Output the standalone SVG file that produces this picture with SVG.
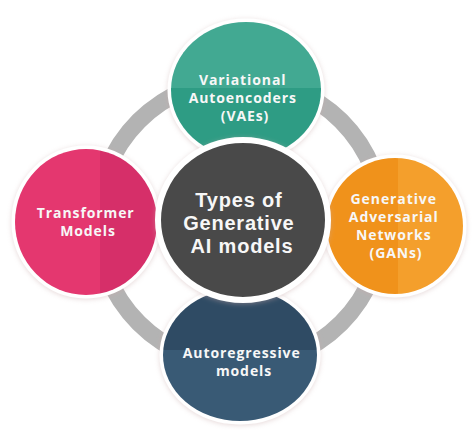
<svg xmlns="http://www.w3.org/2000/svg" width="475" height="430" viewBox="0 0 475 430">
  <defs>
    <filter id="glow" x="-20%" y="-20%" width="140%" height="140%">
      <feDropShadow dx="0" dy="1" stdDeviation="2.5" flood-color="#c9a9a9" flood-opacity="0.45"/>
    </filter>
    <clipPath id="clipTeal"><ellipse cx="246" cy="90" rx="75" ry="68"/></clipPath>
    <clipPath id="clipPink"><ellipse cx="86" cy="222" rx="71" ry="73"/></clipPath>
    <clipPath id="clipOrange"><ellipse cx="395" cy="226" rx="68" ry="68"/></clipPath>
    <clipPath id="clipBlue"><ellipse cx="240" cy="355" rx="77" ry="66"/></clipPath>
  </defs>
  <style>
    .halo { fill: none; stroke: #ffffff; stroke-width: 7; }
    .label { font-family: "Open Sans", "Liberation Sans", sans-serif; font-weight: 700; fill: #f7f7f7; text-anchor: middle; }
    .small { font-size: 14px; letter-spacing: 0.9px; }
    .big { font-family: "Liberation Sans", Arial, sans-serif; font-size: 20px; letter-spacing: 0.8px; }
  </style>
  <rect width="475" height="430" fill="#ffffff"/>

  <!-- connecting ring -->
  <g id="connectors">
    <circle cx="240" cy="222" r="143" fill="none" stroke="#b3b3b3" stroke-width="17"/>
  </g>

  <g id="vae">
    <ellipse cx="246" cy="90" rx="75" ry="68" class="halo" filter="url(#glow)"/>
    <g clip-path="url(#clipTeal)">
      <rect x="160" y="15" width="180" height="75" fill="#42a992"/>
      <rect x="160" y="88" width="180" height="80" fill="#2e9c84"/>
    </g>
    <text class="label small">
      <tspan x="245" y="85">Variational</tspan>
      <tspan x="245" dy="18">Autoencoders</tspan>
      <tspan x="245" dy="18">(VAEs)</tspan>
    </text>
  </g>

  <g id="transformer">
    <ellipse cx="86" cy="222" rx="71" ry="73" class="halo" filter="url(#glow)"/>
    <g clip-path="url(#clipPink)">
      <rect x="10" y="145" width="90" height="155" fill="#e4376f"/>
      <rect x="100" y="145" width="70" height="155" fill="#d62f69"/>
    </g>
    <text class="label small">
      <tspan x="88" y="218">Transformer</tspan>
      <tspan x="88" dy="18">Models</tspan>
    </text>
  </g>

  <g id="gan">
    <ellipse cx="395" cy="226" rx="68" ry="68" class="halo" filter="url(#glow)"/>
    <g clip-path="url(#clipOrange)">
      <rect x="320" y="155" width="78" height="145" fill="#f0921b"/>
      <rect x="398" y="155" width="70" height="145" fill="#f49f2c"/>
    </g>
    <text class="label small">
      <tspan x="396" y="204">Generative</tspan>
      <tspan x="396" dy="18">Adversarial</tspan>
      <tspan x="396" dy="18">Networks</tspan>
      <tspan x="396" dy="18">(GANs)</tspan>
    </text>
  </g>

  <g id="autoregressive">
    <ellipse cx="240" cy="355" rx="77" ry="66" class="halo" filter="url(#glow)"/>
    <g clip-path="url(#clipBlue)">
      <rect x="160" y="285" width="160" height="65" fill="#2f4b64"/>
      <rect x="160" y="350" width="160" height="75" fill="#395a75"/>
    </g>
    <text class="label small">
      <tspan x="244" y="358">Autoregressive</tspan>
      <tspan x="244" dy="18">models</tspan>
    </text>
  </g>

  <g id="center">
    <ellipse cx="243" cy="220" rx="85" ry="80" fill="#4a4a4a" stroke="#ffffff" stroke-width="6" filter="url(#glow)"/>
    <text class="label big">
      <tspan x="242" y="207">Types of</tspan>
      <tspan x="242" dy="23">Generative</tspan>
      <tspan x="242" dy="23">AI models</tspan>
    </text>
  </g>
</svg>
